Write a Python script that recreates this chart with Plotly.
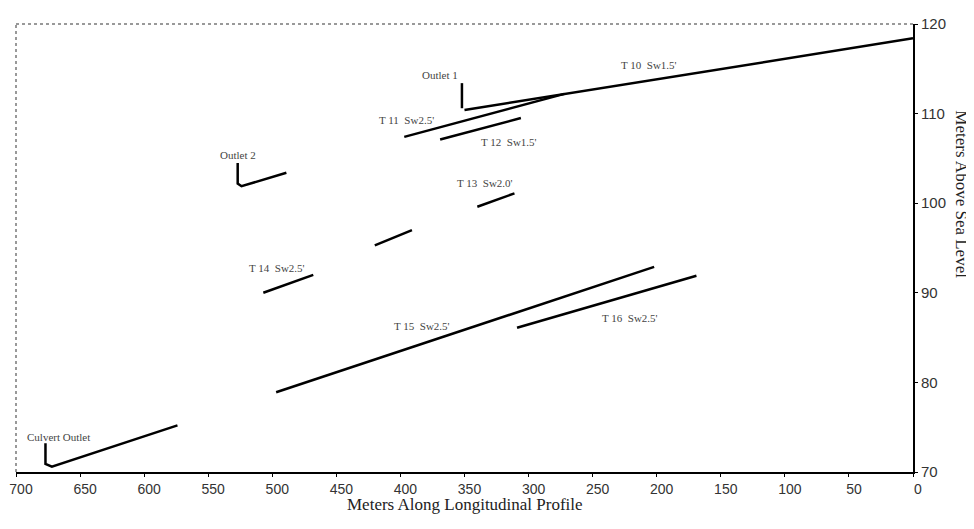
import plotly.graph_objects as go

# Segment data (meters along profile, meters above sea level)
culvert_x = [677, 677, 672, 574]
culvert_y = [73.2, 70.9, 70.6, 75.2]
outlet2_x = [527, 527, 524, 489]
outlet2_y = [104.5, 102.2, 101.9, 103.4]
outlet1_x = [352, 352]
outlet1_y = [113.4, 110.6]
t10_x = [350, 0]
t10_y = [110.4, 118.4]
t11_x = [397, 272]
t11_y = [107.4, 112.2]
t12_x = [369, 306]
t12_y = [107.1, 109.5]
t13_x = [340, 311]
t13_y = [99.6, 101.1]
seg_x = [420, 391]
seg_y = [95.3, 97.0]
t14_x = [507, 468]
t14_y = [90.0, 92.0]
t15_x = [497, 202]
t15_y = [78.9, 92.9]
t16_x = [309, 169]
t16_y = [86.1, 91.9]

segments = [
    (culvert_x, culvert_y), (outlet2_x, outlet2_y), (outlet1_x, outlet1_y),
    (t10_x, t10_y), (t11_x, t11_y), (t12_x, t12_y), (t13_x, t13_y),
    (seg_x, seg_y), (t14_x, t14_y), (t15_x, t15_y), (t16_x, t16_y),
]

labels = ["Outlet 1", "T 10  Sw1.5'", "T 11  Sw2.5'", "T 12  Sw1.5'", "Outlet 2",
          "T 13  Sw2.0'", "T 14  Sw2.5'", "T 15  Sw2.5'", "T 16  Sw2.5'", "Culvert Outlet"]
label_x = [369, 206, 395, 315, 527, 334, 496, 383, 221, 667]
label_y = [114.3, 115.4, 109.3, 106.8, 105.4, 102.3, 92.8, 86.3, 87.2, 73.9]

x_ticks = list(range(0, 701, 50))
y_ticks = [70, 80, 90, 100, 110, 120]

fig = go.Figure()
for sx, sy in segments:
    fig.add_trace(go.Scatter(x=sx, y=sy, mode="lines",
                             line=dict(color="black", width=2.5),
                             showlegend=False, hoverinfo="skip"))

for t, lx, ly in zip(labels, label_x, label_y):
    fig.add_annotation(x=lx, y=ly, text=t, showarrow=False,
                       font=dict(family="Liberation Serif", size=11, color="#444"))

fig.add_annotation(xref="paper", yref="paper", x=1.0545, y=0.62, xanchor="center", yanchor="middle",
                   text="Meters Above Sea Level", textangle=90, showarrow=False,
                   font=dict(family="Liberation Serif", size=17, color="#222"))
fig.add_annotation(xref="paper", yref="paper", x=0.5, y=-0.073, xanchor="center", yanchor="middle",
                   text="Meters Along Longitudinal Profile", showarrow=False,
                   font=dict(family="Liberation Serif", size=17, color="#222"))

# dotted frame on top and left
fig.add_shape(type="line", xref="paper", yref="paper", x0=0, y0=0, x1=0, y1=1,
              line=dict(color="#999", width=2, dash="dot"))
fig.add_shape(type="line", xref="paper", yref="paper", x0=0, y0=1, x1=1, y1=1,
              line=dict(color="#999", width=2, dash="dot"))

fig.update_layout(
    width=974, height=529,
    margin=dict(l=8, r=69, t=16, b=65),
    paper_bgcolor="white", plot_bgcolor="white",
    xaxis=dict(range=[700, 0], tickvals=x_ticks, showgrid=False, zeroline=False,
               automargin=False, ticklabeloverflow="allow", ticklabelshift=-5,
               showline=True, linecolor="black", linewidth=2,
               ticks="outside", ticklen=3, tickcolor="black",
               tickfont=dict(family="Liberation Sans", size=14, color="#333")),
    yaxis=dict(range=[70, 120], tickvals=y_ticks, side="right", showgrid=False, zeroline=False,
               automargin=False, ticklabeloverflow="allow",
               showline=True, linecolor="black", linewidth=2,
               ticks="outside", ticklen=3, tickcolor="black",
               tickfont=dict(family="Liberation Sans", size=15, color="#333")),
)

fig.write_html("out.html")
